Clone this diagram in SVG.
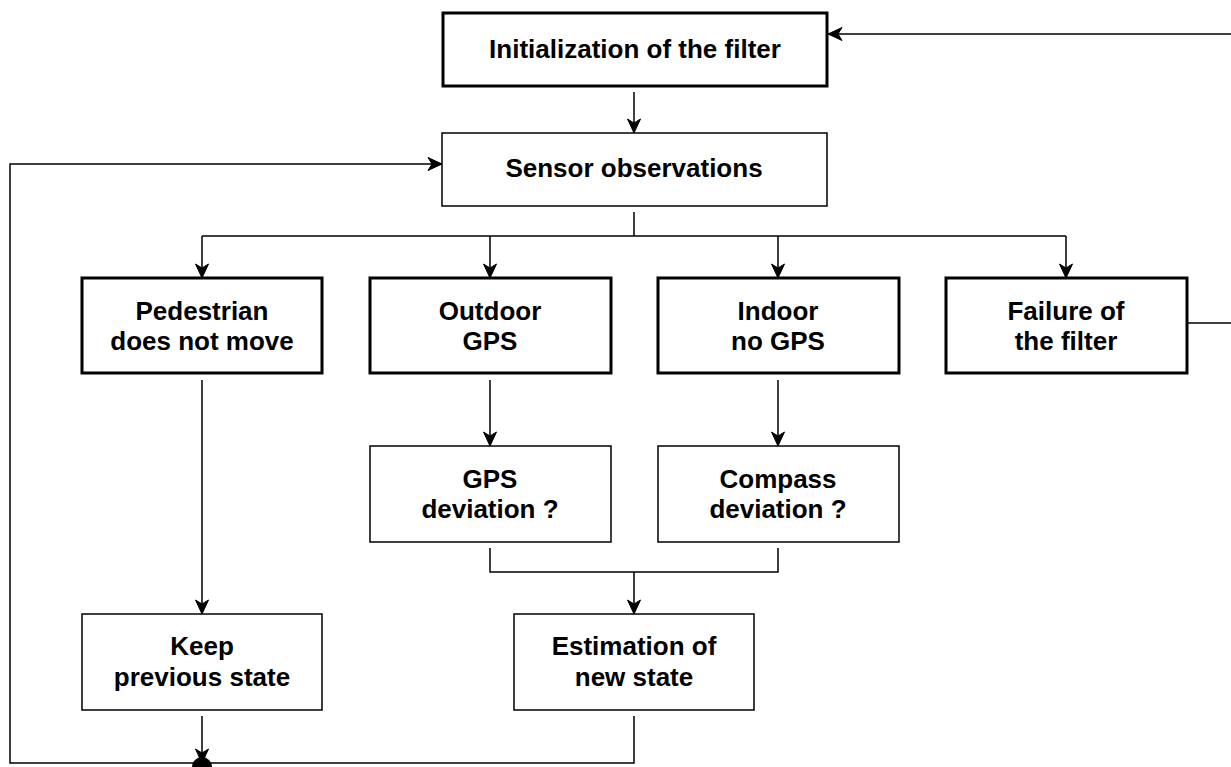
<svg xmlns="http://www.w3.org/2000/svg" width="1231" height="767" viewBox="0 0 1231 767">
<style>
.box{fill:#fff;stroke:#000;stroke-width:1.5}
.thick{stroke-width:3}
.lbl{font-family:"Liberation Sans",Arial,sans-serif;font-weight:bold;font-size:26px;fill:#000;text-anchor:middle}
.c{fill:none;stroke:#000;stroke-width:1.5}
</style>
<defs>
<marker id="ah" markerUnits="userSpaceOnUse" markerWidth="16" markerHeight="16" viewBox="0 0 16 16" refX="15" refY="8" orient="auto">
<path d="M1,1.5 L15,8 L1,14.5 L5,8 z" fill="#000" stroke="#000" stroke-width="1"/>
</marker>
</defs>
<rect width="1231" height="767" fill="#fff"/>
<g id="connectors">
<path class="c" d="M1231,34 H828" marker-end="url(#ah)"/>
<path class="c" d="M634,92 V133" marker-end="url(#ah)"/>
<path class="c" d="M634,212 V236"/>
<path class="c" d="M202,236 H1066"/>
<path class="c" d="M202,236 V278" marker-end="url(#ah)"/>
<path class="c" d="M490,236 V278" marker-end="url(#ah)"/>
<path class="c" d="M778,236 V278" marker-end="url(#ah)"/>
<path class="c" d="M1066,236 V278" marker-end="url(#ah)"/>
<path class="c" d="M1188,323 H1231"/>
<path class="c" d="M202,380 V614" marker-end="url(#ah)"/>
<path class="c" d="M490,380 V446" marker-end="url(#ah)"/>
<path class="c" d="M778,380 V446" marker-end="url(#ah)"/>
<path class="c" d="M490,548 V572 H778 V548"/>
<path class="c" d="M634,572 V614" marker-end="url(#ah)"/>
<path class="c" d="M202,716 V763" marker-end="url(#ah)"/>
<path class="c" d="M634,716 V763 H10 V164 H442" marker-end="url(#ah)"/>
<circle cx="202" cy="767" r="10" fill="#000"/>
</g>
<g id="init">
<rect class="box thick" x="443" y="13" width="384" height="73"/>
<text class="lbl" x="635" y="58">Initialization of the filter</text>
</g>
<g id="sensor">
<rect class="box" x="442" y="133" width="385" height="73"/>
<text class="lbl" x="634" y="177">Sensor observations</text>
</g>
<g id="pedestrian">
<rect class="box thick" x="82" y="278" width="240" height="95"/>
<text class="lbl" x="202" y="320">Pedestrian</text>
<text class="lbl" x="202" y="350">does not move</text>
</g>
<g id="outdoor">
<rect class="box thick" x="370" y="278" width="241" height="95"/>
<text class="lbl" x="490" y="320">Outdoor</text>
<text class="lbl" x="490" y="350">GPS</text>
</g>
<g id="indoor">
<rect class="box thick" x="658" y="278" width="241" height="95"/>
<text class="lbl" x="778" y="320">Indoor</text>
<text class="lbl" x="778" y="350">no GPS</text>
</g>
<g id="failure">
<rect class="box thick" x="946" y="278" width="241" height="95"/>
<text class="lbl" x="1066" y="320">Failure of</text>
<text class="lbl" x="1066" y="350">the filter</text>
</g>
<g id="gpsdev">
<rect class="box" x="370" y="446" width="241" height="96"/>
<text class="lbl" x="490" y="488">GPS</text>
<text class="lbl" x="490" y="518">deviation ?</text>
</g>
<g id="compassdev">
<rect class="box" x="658" y="446" width="241" height="96"/>
<text class="lbl" x="778" y="488">Compass</text>
<text class="lbl" x="778" y="518">deviation ?</text>
</g>
<g id="keep">
<rect class="box" x="82" y="614" width="240" height="96"/>
<text class="lbl" x="202" y="655">Keep</text>
<text class="lbl" x="202" y="686">previous state</text>
</g>
<g id="estimation">
<rect class="box" x="514" y="614" width="240" height="96"/>
<text class="lbl" x="634" y="655">Estimation of</text>
<text class="lbl" x="634" y="686">new state</text>
</g>
</svg>
